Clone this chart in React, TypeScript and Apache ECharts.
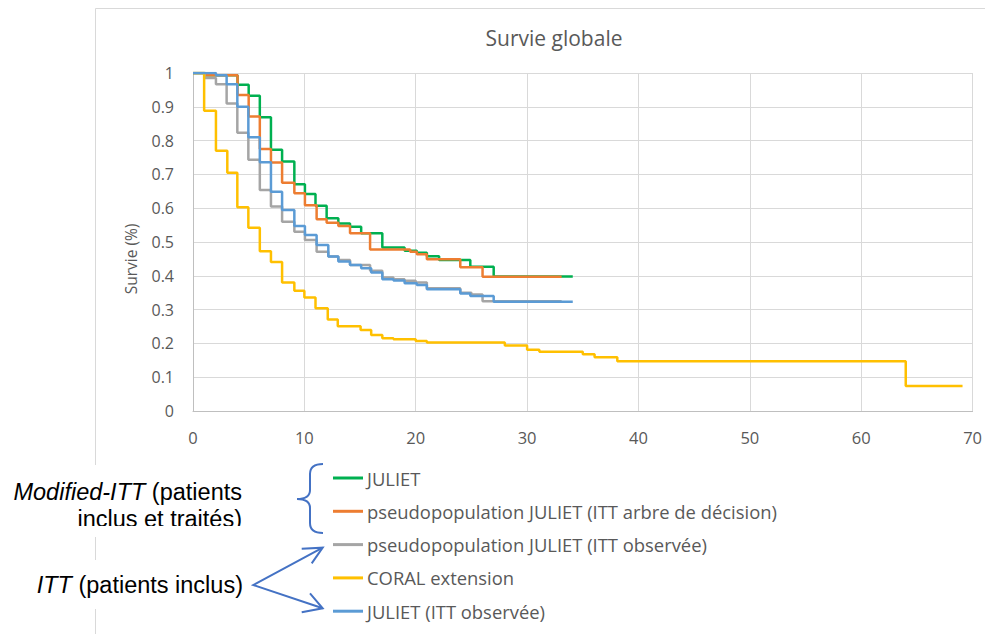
import React, { useEffect, useRef } from "react";
import * as echarts from "echarts";

// ---- Data ----
const seriesNames = [
  "JULIET",
  "pseudopopulation JULIET (ITT arbre de décision)",
  "pseudopopulation JULIET (ITT observée)",
  "CORAL extension",
  "JULIET (ITT observée)",
];

const julietT = [0, 1.1, 4, 5, 6, 7, 8, 9.1, 10.05, 11, 12, 13.05, 14.1, 15.1, 17, 19, 20.1, 21, 22.1, 24.9, 27, 34.1];
const julietS = [1, 0.993, 0.965, 0.933, 0.869, 0.773, 0.738, 0.671, 0.642, 0.607, 0.57, 0.555, 0.545, 0.526, 0.484, 0.474, 0.468, 0.458, 0.447, 0.427, 0.398, 0.398];

const pseudoArbreT = [0, 1.1, 4, 5, 6, 7, 8, 9.1, 10.05, 11.1, 12, 13.05, 14.1, 15.9, 19.5, 20.1, 21, 24, 26, 33.1];
const pseudoArbreS = [1, 0.993, 0.935, 0.871, 0.775, 0.735, 0.675, 0.644, 0.609, 0.567, 0.557, 0.547, 0.526, 0.478, 0.471, 0.464, 0.449, 0.425, 0.397, 0.397];

const pseudoObsT = [0, 1.05, 2.06, 3.02, 3.98, 4.97, 6, 7, 8, 9.1, 10.05, 11.1, 12.15, 13.05, 14.1, 15.9, 17, 18, 19, 20, 21, 24, 25, 26, 33.1];
const pseudoObsS = [1, 0.985, 0.967, 0.91, 0.823, 0.743, 0.654, 0.605, 0.56, 0.53, 0.506, 0.471, 0.457, 0.447, 0.432, 0.415, 0.395, 0.39, 0.385, 0.38, 0.363, 0.35, 0.345, 0.325, 0.325];

const coralT = [0, 1, 2.06, 3.08, 3.98, 4.97, 6, 7, 8, 9.1, 10, 11, 12.1, 13, 15.05, 16, 17, 18, 20, 21, 28, 30, 31.1, 35, 36.06, 38.1, 64, 69.1];
const coralS = [1, 0.888, 0.77, 0.705, 0.603, 0.542, 0.473, 0.441, 0.38, 0.356, 0.336, 0.304, 0.271, 0.251, 0.24, 0.225, 0.215, 0.212, 0.207, 0.203, 0.194, 0.181, 0.175, 0.168, 0.159, 0.147, 0.074, 0.074];

const julietObsT = [0, 2.06, 3.02, 3.98, 4.97, 6, 7, 8, 9.1, 10.05, 11.1, 12.15, 13.05, 14.1, 15.1, 16, 17, 18, 19, 20.1, 21, 24, 24.9, 27, 34.1];
const julietObsS = [1, 0.993, 0.967, 0.9, 0.81, 0.736, 0.649, 0.595, 0.547, 0.521, 0.491, 0.457, 0.442, 0.432, 0.422, 0.41, 0.39, 0.386, 0.378, 0.373, 0.36, 0.348, 0.34, 0.323, 0.323];

const seriesColors = ["#00B050", "#ED7D31", "#A5A5A5", "#FFC000", "#5B9BD5"];

const FONT = "'Open Sans', 'Noto Sans', sans-serif";
const ARIAL = "'Liberation Sans', Arial, sans-serif";

const zip = (t: number[], s: number[]) => t.map((v, i) => [v, s[i]]);

echarts.graphic.registerShape(
  "brace",
  echarts.graphic.extendPath(
    "M323,464 Q310,464 310,474 L310,490 Q310,499 297,499 Q310,499 310,508 L310,523 Q310,533 323,533",
    {}
  )
);

export default function App() {
  const ref = useRef<HTMLDivElement>(null);

  useEffect(() => {
    if (!ref.current) return;
    const chart = echarts.init(ref.current, undefined, { renderer: "svg" });
    const allData = [
      zip(julietT, julietS),
      zip(pseudoArbreT, pseudoArbreS),
      zip(pseudoObsT, pseudoObsS),
      zip(coralT, coralS),
      zip(julietObsT, julietObsS),
    ];
    const blue = "#4472C4";
    chart.setOption({
      animation: false,
      backgroundColor: "#ffffff",
      title: {
        text: "Survie globale",
        left: 549,
        top: 22,
        textAlign: "center",
        textStyle: { fontFamily: FONT, fontSize: 21, fontWeight: "normal", color: "#595959" },
      },
      grid: { left: 193, top: 73, width: 780, height: 338 },
      xAxis: {
        type: "value",
        min: 0,
        max: 70,
        interval: 10,
        axisLine: { show: true, lineStyle: { color: "#BFBFBF", width: 1 } },
        axisTick: { show: false },
        axisLabel: { color: "#595959", fontFamily: FONT, fontSize: 16.5, margin: 18 },
        splitLine: { show: true, lineStyle: { color: "#D9D9D9", width: 1 } },
      },
      yAxis: {
        type: "value",
        min: 0,
        max: 1,
        interval: 0.1,
        axisLine: { show: true, lineStyle: { color: "#BFBFBF", width: 1 } },
        axisTick: { show: false },
        axisLabel: {
          color: "#595959",
          fontFamily: FONT,
          fontSize: 16,
          margin: 19,
          formatter: (v: number) => String(Number(v.toFixed(1))),
        },
        splitLine: { show: true, lineStyle: { color: "#D9D9D9", width: 1 } },
      },
      legend: {
        orient: "vertical",
        left: 333,
        top: 468,
        padding: 0,
        itemWidth: 30,
        itemHeight: 3,
        itemGap: 13.3,
        icon: "rect",
        textStyle: { color: "#595959", fontFamily: FONT, fontSize: 18.4, lineHeight: 20, padding: [0, 0, 0, -1] },
        data: seriesNames,
      },
      series: seriesNames.map((name, i) => ({
        name,
        type: "line",
        step: "end",
        data: allData[i],
        showSymbol: false,
        symbol: "none",
        color: seriesColors[i],
        lineStyle: { color: seriesColors[i], width: 2.5 },
        z: 2 + i,
      })),
      graphic: [
        {
          type: "rect",
          z: 0,
          silent: true,
          shape: { x: 95.5, y: 8.5, width: 1000, height: 700 },
          style: { fill: "none", stroke: "#D9D9D9", lineWidth: 1 },
        },
        {
          type: "text",
          z: 2,
          x: 131,
          y: 259,
          rotation: Math.PI / 2,
          style: {
            text: "Survie (%)",
            align: "center",
            verticalAlign: "middle",
            fontFamily: FONT,
            fontSize: 15.5,
            fill: "#595959",
          },
        },
        {
          type: "rect",
          z: 1,
          silent: true,
          shape: { x: 0, y: 465, width: 290, height: 72 },
          style: { fill: "#ffffff" },
        },
        {
          type: "rect",
          z: 1,
          silent: true,
          shape: { x: 0, y: 560, width: 250, height: 49 },
          style: { fill: "#ffffff" },
        },
        {
          type: "text",
          z: 2,
          x: 242,
          y: 492,
          style: {
            text: "{i|Modified-ITT} (patients",
            align: "right",
            verticalAlign: "middle",
            fontFamily: ARIAL,
            fontSize: 23.5,
            fill: "#000000",
            rich: { i: { fontStyle: "italic", fontFamily: ARIAL, fontSize: 23.5, fill: "#000000" } },
          },
        },
        {
          type: "text",
          z: 2,
          x: 242,
          y: 519,
          style: {
            text: "inclus et traités)",
            align: "right",
            verticalAlign: "middle",
            fontFamily: ARIAL,
            fontSize: 23.5,
            fill: "#000000",
          },
        },
        {
          type: "rect",
          z: 3,
          silent: true,
          shape: { x: 0, y: 526, width: 290, height: 11 },
          style: { fill: "#ffffff" },
        },
        {
          type: "text",
          z: 2,
          x: 243,
          y: 585,
          style: {
            text: "{i|ITT} (patients inclus)",
            align: "right",
            verticalAlign: "middle",
            fontFamily: ARIAL,
            fontSize: 23.5,
            fill: "#000000",
            rich: { i: { fontStyle: "italic", fontFamily: ARIAL, fontSize: 23.5, fill: "#000000" } },
          },
        },
        {
          type: "brace",
          z: 4,
          x: 0,
          y: 0,
          style: { fill: "none", stroke: blue, lineWidth: 2 },
        },
        {
          type: "polyline",
          z: 4,
          shape: { points: [[322.7, 547.7], [253.3, 585], [322.7, 608.3]] },
          style: { stroke: blue, lineWidth: 2, fill: "none" },
        },
        {
          type: "polyline",
          z: 4,
          shape: { points: [[301.7, 548.7], [322.7, 547.7], [311.7, 563.3]] },
          style: { stroke: blue, lineWidth: 2, fill: "none" },
        },
        {
          type: "polyline",
          z: 4,
          shape: { points: [[301.7, 612.3], [322.7, 608.3], [310, 593.3]] },
          style: { stroke: blue, lineWidth: 2, fill: "none" },
        },
      ],
    });
    return () => chart.dispose();
  }, []);

  return (
    <div
      ref={ref}
      style={{ position: "fixed", left: 0, top: 0, width: 985, height: 634, background: "#fff" }}
    />
  );
}
